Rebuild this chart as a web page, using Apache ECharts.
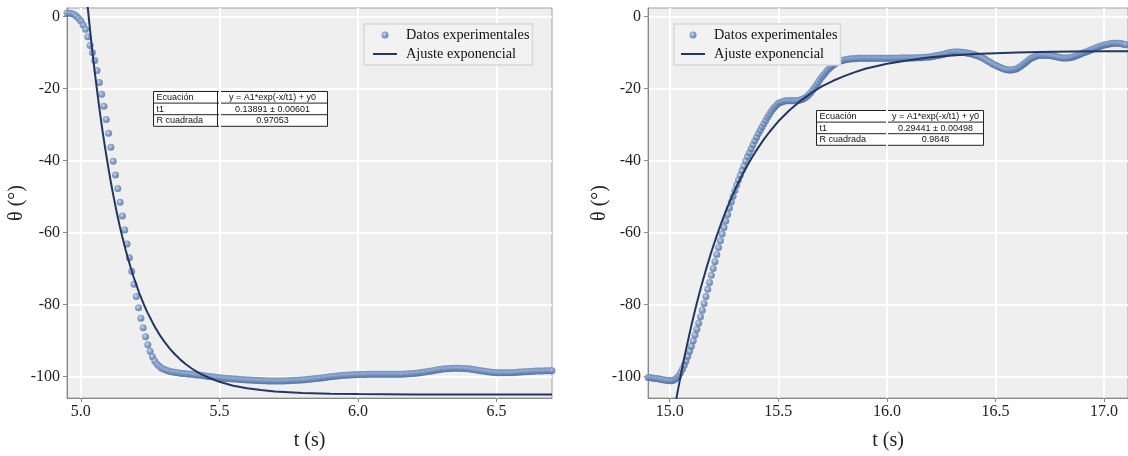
<!DOCTYPE html>
<html>
<head>
<meta charset="utf-8">
<script src="https://cdn.jsdelivr.net/npm/echarts@6/dist/echarts.min.js"></script>
<style>
html,body{margin:0;padding:0;background:#ffffff;}
#c{width:1128px;height:456px;}
</style>
</head>
<body>
<div id="c"></div>
<script>
// ---------- DATA ----------
const seriesNames = ['Datos experimentales', 'Ajuste exponencial'];
const axisTitleX = 't (s)';
const axisTitleY = 'θ (°)';

// sampling grid of the experimental data (s)
const leftStart = 4.95;
const rightStart = 14.9;
const sampleStep = 1 / 120;

// left panel: experimental angle (deg), one value per sample
const leftTheta = [
  1.0, 0.95, 0.85, 0.6, 0.15, -0.45, -1.2, -2.3, -3.5, -5.6,
  -8.0, -10.0, -12.2, -15.0, -18.3, -21.6, -24.9, -28.6, -32.4, -36.3,
  -40.2, -44.0, -47.8, -51.6, -55.4, -59.3, -63.2, -67.0, -70.8, -74.4,
  -77.8, -80.9, -83.8, -86.5, -89.0, -91.2, -93.0, -94.5, -95.7, -96.6,
  -97.2, -97.7, -98.0, -98.3, -98.5, -98.7, -98.8, -98.9, -99.0, -99.1,
  -99.2, -99.2, -99.3, -99.3, -99.4, -99.5, -99.6, -99.6, -99.7, -99.8,
  -99.9, -100.0, -100.1, -100.1, -100.2, -100.3, -100.4,
  -100.45, -100.5, -100.55, -100.6, -100.65, -100.7,
  -100.75, -100.8, -100.85, -100.9, -100.95, -101.0,
  -101.03, -101.07, -101.1, -101.13, -101.17, -101.2,
  -101.22, -101.23, -101.25, -101.27, -101.28, -101.3,
  -101.3, -101.3, -101.28, -101.25, -101.22, -101.2,
  -101.17, -101.13, -101.1, -101.07, -101.03, -101.0,
  -100.93, -100.87, -100.8, -100.73, -100.67, -100.6,
  -100.52, -100.43, -100.35, -100.27, -100.18, -100.1,
  -100.03, -99.97, -99.9, -99.83, -99.77, -99.7,
  -99.67, -99.63, -99.6, -99.57, -99.53, -99.5,
  -99.48, -99.47, -99.45, -99.43, -99.42, -99.4,
  -99.4, -99.4, -99.4, -99.4, -99.4, -99.4,
  -99.4, -99.4, -99.4, -99.4, -99.4, -99.4,
  -99.37, -99.33, -99.3, -99.27, -99.23, -99.2,
  -99.12, -99.03, -98.95, -98.87, -98.78, -98.7,
  -98.58, -98.47, -98.35, -98.23, -98.12, -98.0,
  -97.95, -97.9, -97.85, -97.8, -97.75, -97.7,
  -97.7, -97.73, -97.77, -97.8, -97.85, -97.9,
  -98.0, -98.1, -98.2, -98.3, -98.4, -98.5,
  -98.58, -98.67, -98.75, -98.83, -98.92, -99.0,
  -99.0, -99.0, -99.0, -99.0, -99.0, -99.0,
  -98.95, -98.9, -98.85, -98.8, -98.75, -98.7,
  -98.67, -98.63, -98.6, -98.57, -98.53, -98.5,
  -98.48, -98.47, -98.45, -98.43, -98.42, -98.4
];

// right panel: experimental angle (deg), one value per sample
const rightTheta = [
  -100.3, -100.35, -100.4, -100.5, -100.55, -100.6, -100.7, -100.8, -100.9, -101.0, -101.1, -101.15, -101.2,
  -101.2, -101.1, -100.8, -100.4, -99.8, -99.0, -98.0, -96.9, -95.7, -94.4, -93.0, -91.6,
  -90.1, -88.5, -86.9, -85.2, -83.4, -81.6, -79.7, -77.8, -75.8, -73.9, -71.9, -70.0,
  -68.1, -66.1, -64.2, -62.3, -60.4, -58.6, -56.8, -55.0, -53.2, -51.5, -49.9, -48.3,
  -46.8, -45.4, -44.1, -42.8, -41.5, -40.1, -38.9, -37.8, -36.7, -35.6, -34.5, -33.5,
  -32.5, -31.6, -30.7, -29.8, -28.9, -28.0, -27.2, -26.4, -25.7, -25.1, -24.6, -24.1,
  -23.9, -23.7, -23.5, -23.4, -23.4, -23.4,
  -23.4, -23.4, -23.4, -23.4, -23.3, -23.2,
  -23.0, -22.8, -22.5, -22.1, -21.6, -21.1,
  -20.4, -19.7, -19.0, -18.3, -17.5, -16.8,
  -16.2, -15.6, -15.0, -14.5, -14.0, -13.6,
  -13.2, -12.9, -12.6, -12.4, -12.2, -12.1,
  -12.0, -11.9, -11.8, -11.8, -11.7, -11.7,
  -11.7, -11.6, -11.6, -11.6, -11.6, -11.6,
  -11.6, -11.6, -11.6, -11.6, -11.6, -11.6, -11.6, -11.6, -11.6, -11.6, -11.6, -11.6,
  -11.6, -11.6, -11.6, -11.6, -11.6, -11.6, -11.5, -11.5, -11.5, -11.5, -11.5, -11.5,
  -11.5, -11.5, -11.5, -11.4, -11.4, -11.4, -11.4, -11.3, -11.3, -11.3, -11.2, -11.2,
  -11.1, -11.0, -10.9, -10.8, -10.7, -10.6,
  -10.5, -10.4, -10.2, -10.1, -10.0, -9.9,
  -9.8, -9.8, -9.8, -9.8, -9.9, -10.0,
  -10.0, -10.1, -10.2, -10.3, -10.4, -10.5,
  -10.7, -10.9, -11.1, -11.3, -11.5, -11.8,
  -12.1, -12.4, -12.7, -13.0, -13.3, -13.5,
  -13.8, -14.0, -14.2, -14.4, -14.6, -14.7,
  -14.8, -14.8, -14.8, -14.7, -14.6, -14.4,
  -14.1, -13.8, -13.4, -13.0, -12.6, -12.2,
  -11.8, -11.5, -11.3, -11.1, -10.9, -10.8,
  -10.7, -10.7, -10.7, -10.7, -10.8, -10.8,
  -10.9, -11.0, -11.1, -11.2, -11.3, -11.4,
  -11.5, -11.5, -11.5, -11.5, -11.4, -11.3,
  -11.2, -11.0, -10.8, -10.6, -10.4, -10.2,
  -10.0, -9.8, -9.6, -9.4, -9.2, -9.0,
  -8.8, -8.6, -8.4, -8.2, -8.0, -7.9,
  -7.8, -7.7, -7.6, -7.5, -7.4, -7.4,
  -7.4, -7.4, -7.5, -7.6, -7.7, -7.8
];

// fitted exponential curves
const leftFitT = [5.02, 5.03, 5.04, 5.05, 5.06, 5.07, 5.08, 5.09, 5.10, 5.11, 5.12, 5.13, 5.14, 5.15, 5.16, 5.17, 5.18, 5.19, 5.20, 5.21, 5.22, 5.23, 5.24, 5.25, 5.26, 5.27, 5.28, 5.29, 5.30, 5.32, 5.34, 5.36, 5.38, 5.40, 5.43, 5.46, 5.50, 5.55, 5.60, 5.65, 5.70, 5.80, 5.90, 6.00, 6.20, 6.70];
const leftFitTheta = [6.3, -1.4, -8.6, -15.3, -21.5, -27.3, -32.7, -37.7, -42.4, -46.8, -50.8, -54.6, -58.1, -61.3, -64.4, -67.2, -69.8, -72.3, -74.5, -76.7, -78.6, -80.5, -82.2, -83.7, -85.2, -86.6, -87.9, -89.1, -90.2, -92.2, -93.9, -95.4, -96.7, -97.8, -99.2, -100.3, -101.5, -102.6, -103.3, -103.8, -104.2, -104.6, -104.8, -104.9, -105.0, -105.0];
const rightFitT = [15.02, 15.03, 15.04, 15.05, 15.06, 15.07, 15.08, 15.09, 15.10, 15.11, 15.12, 15.13, 15.14, 15.15, 15.16, 15.17, 15.18, 15.19, 15.20, 15.22, 15.24, 15.26, 15.28, 15.30, 15.32, 15.34, 15.36, 15.38, 15.40, 15.43, 15.46, 15.50, 15.55, 15.60, 15.65, 15.70, 15.75, 15.80, 15.85, 15.90, 15.95, 16.00, 16.10, 16.20, 16.30, 16.40, 16.50, 16.60, 16.70, 16.85, 17.00, 17.11];
const rightFitTheta = [-109.7, -106.3, -103.1, -100.0, -96.9, -94.0, -91.2, -88.5, -85.8, -83.3, -80.8, -78.4, -76.1, -73.9, -71.8, -69.7, -67.7, -65.7, -63.9, -60.3, -57.0, -53.8, -50.9, -48.2, -45.7, -43.3, -41.1, -39.0, -37.1, -34.4, -32.0, -29.1, -26.1, -23.5, -21.3, -19.4, -17.9, -16.6, -15.5, -14.5, -13.8, -13.1, -12.1, -11.3, -10.8, -10.4, -10.2, -10.0, -9.8, -9.7, -9.6, -9.6];

// ticks
const leftXTicks = [5.0, 5.5, 6.0, 6.5];
const rightXTicks = [15.0, 15.5, 16.0, 16.5, 17.0];
const yTicks = [0, -20, -40, -60, -80, -100];

// fit tables
const leftTable = [
  ['Ecuación', 'y = A1*exp(-x/t1) + y0'],
  ['t1', '0.13891 ± 0.00601'],
  ['R cuadrada', '0.97053']
];
const rightTable = [
  ['Ecuación', 'y = A1*exp(-x/t1) + y0'],
  ['t1', '0.29441 ± 0.00498'],
  ['R cuadrada', '0.9848']
];

// ---------- CHART ----------
const SERIF = '"Liberation Serif", "Times New Roman", serif';
const SANS = '"Liberation Sans", Arial, sans-serif';
const dotColor = new echarts.graphic.RadialGradient(0.4, 0.38, 0.62, [
  { offset: 0, color: '#c9d6ea' },
  { offset: 0.45, color: '#7594c2' },
  { offset: 1, color: '#4d6c9b' }
]);
const fitColor = '#24375f';

const leftPoints = leftTheta.map((v, i) => [leftStart + i * sampleStep, v]);
const rightPoints = rightTheta.map((v, i) => [rightStart + i * sampleStep, v]);
const leftFit = leftFitT.map((t, i) => [t, leftFitTheta[i]]);
const rightFit = rightFitT.map((t, i) => [t, rightFitTheta[i]]);

function xAxisCfg(gi, min, max, ticks) {
  return {
    type: 'value', gridIndex: gi, min: min, max: max,
    name: axisTitleX, nameLocation: 'middle', nameGap: 33, nameMoveOverlap: false,
    nameTextStyle: { fontFamily: SERIF, fontSize: 20, color: '#222' },
    axisLine: { show: true, onZero: false, lineStyle: { color: '#888', width: 1 } },
    axisTick: { show: true, customValues: ticks, length: 4, lineStyle: { color: '#888' } },
    axisLabel: { customValues: ticks, formatter: v => Number(v).toFixed(1), fontFamily: SERIF, fontSize: 16, color: '#222', margin: 6 },
    splitLine: { show: true, lineStyle: { color: '#ffffff', width: 2 } }
  };
}
function yAxisCfg(gi, gap) {
  return {
    type: 'value', gridIndex: gi, min: -106, max: 2.4,
    name: axisTitleY, nameLocation: 'middle', nameGap: gap, nameRotate: 90, nameMoveOverlap: false,
    nameTextStyle: { fontFamily: SERIF, fontSize: 20, color: '#222' },
    axisLine: { show: true, onZero: false, lineStyle: { color: '#888', width: 1 } },
    axisTick: { show: true, customValues: yTicks, length: 4, lineStyle: { color: '#888' } },
    axisLabel: { customValues: yTicks, formatter: v => String(Math.round(v)), fontFamily: SERIF, fontSize: 16, color: '#222', margin: 7 },
    splitLine: { show: true, lineStyle: { color: '#ffffff', width: 2 } }
  };
}
function legendCfg(left, padLeft) {
  return {
    left: left, top: 24, orient: 'vertical',
    data: [
      { name: seriesNames[0], icon: 'circle' },
      { name: seriesNames[1], itemStyle: { color: 'rgba(0,0,0,0)', borderWidth: 0, opacity: 0 } }
    ],
    backgroundColor: '#f2f2f2', borderColor: '#d8d8d8', borderWidth: 1.5,
    padding: [3, 3, 3, padLeft], itemGap: 3, itemWidth: 24, itemHeight: 7,
    textStyle: { fontFamily: SERIF, fontSize: 14.3, color: '#111', lineHeight: 16, padding: [0, 0, 0, 4] },
    selectedMode: false
  };
}
function tableGraphic(x, y, w1, w2, rowH, rows) {
  const H = rowH * rows.length, W = w1 + w2;
  const children = [{ type: 'rect', shape: { x: 0, y: 0, width: W, height: H }, style: { fill: '#ffffff', stroke: '#222', lineWidth: 1 } }];
  rows.forEach((r, i) => {
    if (i > 0) children.push({ type: 'line', shape: { x1: 0, y1: i * rowH, x2: W, y2: i * rowH }, style: { stroke: '#222', lineWidth: 1 } });
    children.push({ type: 'text', style: { text: r[0], x: 3, y: i * rowH + rowH / 2 + 0.5, fill: '#111', font: '9px ' + SANS, align: 'left', verticalAlign: 'middle' } });
    children.push({ type: 'text', style: { text: r[1], x: w1 + w2 / 2, y: i * rowH + rowH / 2 + 0.5, fill: '#111', font: '9px ' + SANS, align: 'center', verticalAlign: 'middle' } });
  });
  children.push({ type: 'line', shape: { x1: w1, y1: 0, x2: w1, y2: H }, style: { stroke: '#222', lineWidth: 1 } });
  return { type: 'group', x: x, y: y, z: 100, children: children };
}

const chart = echarts.init(document.getElementById('c'), null, { renderer: 'canvas' });
chart.setOption({
  animation: false,
  backgroundColor: '#ffffff',
  grid: [
    { left: 67, top: 8, width: 485, height: 390, show: true, backgroundColor: '#efefef', borderColor: '#a0a0a0', borderWidth: 1 },
    { left: 648, top: 8, width: 482, height: 390, show: true, backgroundColor: '#efefef', borderColor: '#a0a0a0', borderWidth: 1 }
  ],
  xAxis: [xAxisCfg(0, 4.95, 6.70, leftXTicks), xAxisCfg(1, 14.9, 17.11, rightXTicks)],
  yAxis: [yAxisCfg(0, 40), yAxisCfg(1, 38)],
  legend: [legendCfg(364, 8), legendCfg(674, 6)],
  graphic: [
    tableGraphic(153.5, 91.5, 64, 110, 11.6, leftTable),
    tableGraphic(816.5, 110.5, 71, 96, 11.6, rightTable)
  ],
  series: [
    { name: seriesNames[0], type: 'scatter', xAxisIndex: 0, yAxisIndex: 0, data: leftPoints, symbol: 'circle', symbolSize: 7, itemStyle: { color: dotColor }, z: 2 },
    { name: seriesNames[1], type: 'line', xAxisIndex: 0, yAxisIndex: 0, data: leftFit, smooth: false, showSymbol: false, symbol: 'none', lineStyle: { color: fitColor, width: 2 }, itemStyle: { color: fitColor }, clip: true, z: 3 },
    { name: seriesNames[0], type: 'scatter', xAxisIndex: 1, yAxisIndex: 1, data: rightPoints, symbol: 'circle', symbolSize: 7, itemStyle: { color: dotColor }, z: 2 },
    { name: seriesNames[1], type: 'line', xAxisIndex: 1, yAxisIndex: 1, data: rightFit, smooth: false, showSymbol: false, symbol: 'none', lineStyle: { color: fitColor, width: 2 }, itemStyle: { color: fitColor }, clip: true, z: 3 }
  ]
});
</script>
</body>
</html>
